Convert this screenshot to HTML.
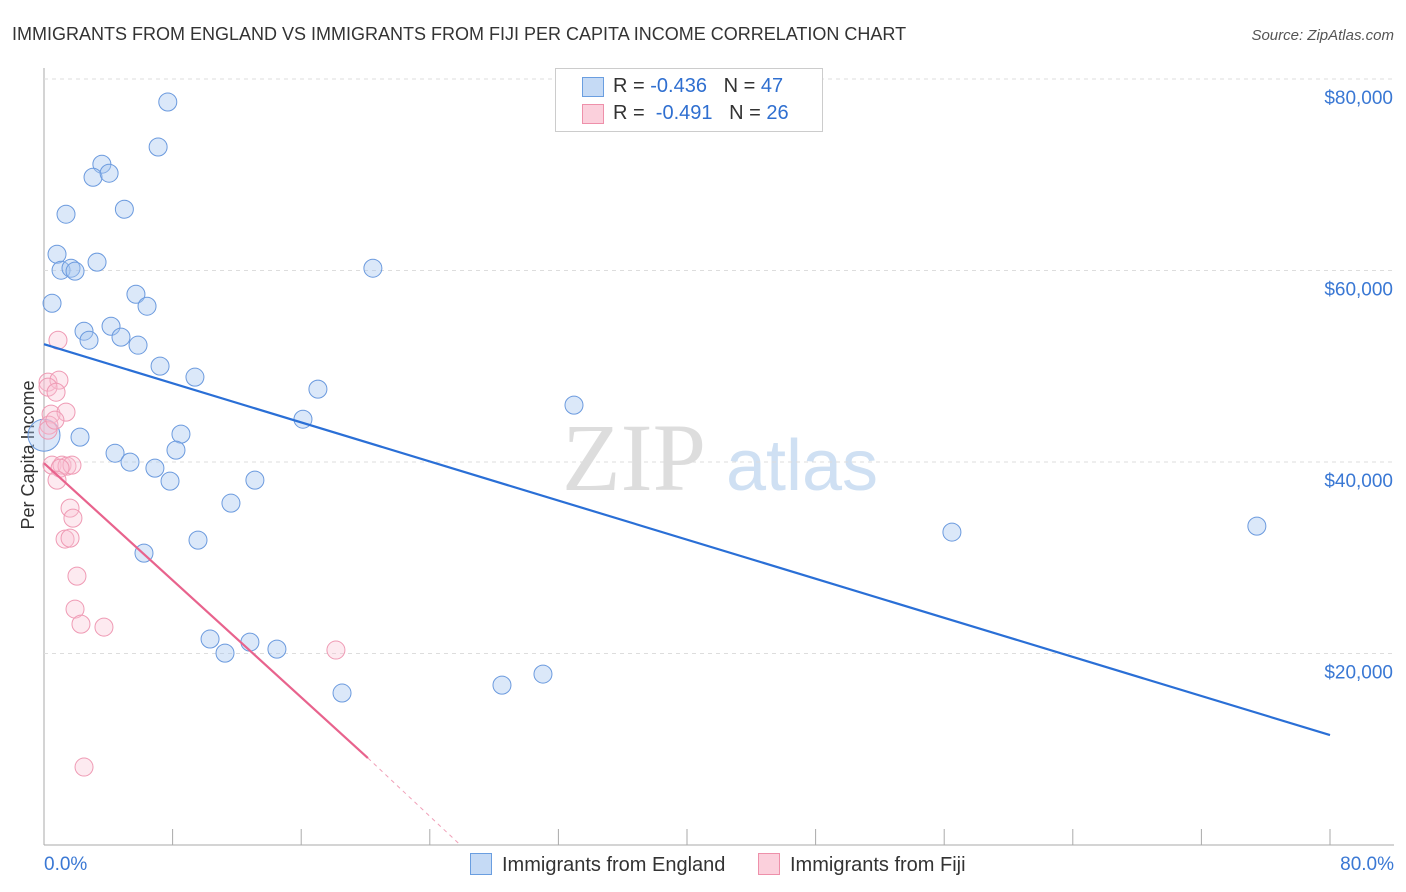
<!DOCTYPE html>
<html><head><meta charset="utf-8"><style>
body{margin:0;background:#fff;font-family:"Liberation Sans",sans-serif;}
#c{position:relative;width:1406px;height:892px;overflow:hidden}
</style></head><body><div id="c">
<svg id="s" width="1406" height="892" xmlns="http://www.w3.org/2000/svg">
<text x="12" y="40" font-size="18" fill="#333">IMMIGRANTS FROM ENGLAND VS IMMIGRANTS FROM FIJI PER CAPITA INCOME CORRELATION CHART</text>
<text x="1394" y="40" font-size="15" fill="#555" text-anchor="end" font-style="italic">Source: ZipAtlas.com</text>
<text x="634" y="490" font-size="96" fill="#ddd" text-anchor="middle" font-family="Liberation Serif,serif">ZIP</text>
<text x="802" y="490" font-size="72" fill="#cfe0f3" text-anchor="middle">atlas</text>
<text transform="translate(34,455) rotate(-90)" font-size="18" fill="#333" text-anchor="middle">Per Capita Income</text>
<g id="grid"></g><g id="marks"></g>
</svg>
<div style="position:absolute;left:555px;top:68px;width:266px;height:62px;border:1px solid #ccc;background:#fff;font-size:20px;color:#333">
<div style="position:absolute;left:26px;top:8px;width:20px;height:18px;background:#c5daf5;border:1px solid #6a9ee0"></div>
<div style="position:absolute;left:57px;top:6px">R = <span style="color:#2f6fd0">-0.436</span>&nbsp;&nbsp;&nbsp;N = <span style="color:#2f6fd0">47</span></div>
<div style="position:absolute;left:26px;top:35px;width:20px;height:18px;background:#fbd0dc;border:1px solid #ee90aa"></div>
<div style="position:absolute;left:57px;top:33px">R = &nbsp;<span style="color:#2f6fd0">-0.491</span>&nbsp;&nbsp;&nbsp;N = <span style="color:#2f6fd0">26</span></div>
</div>
<div style="position:absolute;left:470px;top:853px;font-size:20px;color:#333"><span style="display:inline-block;width:20px;height:20px;background:#c5daf5;border:1px solid #6a9ee0;vertical-align:-4px;margin-right:10px"></span>Immigrants from England</div>
<div style="position:absolute;left:758px;top:853px;font-size:20px;color:#333"><span style="display:inline-block;width:20px;height:20px;background:#fbd0dc;border:1px solid #ee90aa;vertical-align:-4px;margin-right:10px"></span>Immigrants from Fiji</div>
</div>
<script>
const yTicks=[20000,40000,60000,80000];
const yTickLabels=["$20,000","$40,000","$60,000","$80,000"];
const xTickLabels=["0.0%","80.0%"];
const engX=[7.7,7.1,3.6,3.05,4.05,5.0,1.37,0.81,1.06,1.68,1.93,3.3,0.5,5.72,6.41,2.49,4.17,2.8,4.79,5.85,7.22,9.39,17.04,16.11,20.46,32.97,2.24,0,4.42,5.35,8.52,8.21,6.9,7.84,13.12,11.63,6.22,9.58,56.48,75.45,10.33,11.26,12.81,14.49,18.54,28.49,31.04];
const engY=[77600,72900,71100,69740,70160,66400,65880,61700,60030,60240,59930,60870,56580,57520,56270,53660,54180,52720,53040,52200,50010,48860,47610,44470,60240,45940,42600,42800,40920,39990,42910,41240,39360,38000,38110,35700,30480,31840,32680,33300,21510,20040,21190,20460,15870,16700,17850];
const engR=[9,9,9,9,9,9,9,9,9,9,9,9,9,9,9,9,9,9,9,9,9,9,9,9,9,9,9,16,9,9,9,9,9,9,9,9,9,9,9,9,9,9,9,9,9,9,9];
const fijiX=[0.87,0.25,0.93,0.25,0.75,0.44,1.37,0.31,0.25,0.5,1.12,1.43,1.74,1.0,0.81,1.62,1.8,1.31,1.62,2.05,1.93,2.3,3.73,18.16,2.49,0.68];
const fijiY=[52720,48340,48550,47820,47290,45000,45210,43850,43330,39670,39670,39570,39670,39360,38110,35180,34140,31950,32050,28080,24640,23070,22760,20360,8140,44370];
const engTrend=[[0,52300],[80,11480]];
const fijiTrend=[[0,39880],[20.15,9080]];
const fijiDash=[[20.15,9080],[25.9,0]];
const X=v=>44+v/80*1286, Y=v=>845-v/20000*191.5;
const NS="http://www.w3.org/2000/svg";
function mk(p,t,a){const e=document.createElementNS(NS,t);for(const k in a)e.setAttribute(k,a[k]);p.appendChild(e);return e;}
const g=document.getElementById('grid'),m=document.getElementById('marks');
let e=mk(g,'line',{x1:44,y1:68,x2:44,y2:845,stroke:'#aaa'});


e=mk(g,'line',{x1:44,y1:845,x2:1394,y2:845,stroke:'#aaa'});


for(let i=0;i<=10;i++){e=mk(g,'line',{x1:X(i*8),y1:829,x2:X(i*8),y2:845,stroke:'#aaa'});

}
e=mk(g,'line',{x1:44,y1:Y(80000),x2:1394,y2:Y(80000),stroke:'#ddd','stroke-dasharray':'4,4'});


yTicks.forEach((v,i)=>{e=mk(g,'line',{x1:44,y1:Y(v),x2:1394,y2:Y(v),stroke:'#ddd','stroke-dasharray':'4,4'});


const t=mk(g,'text',{x:1393,y:Y(v)+25,'font-size':19,fill:'#3a78d4','text-anchor':'end'});t.textContent=yTickLabels[i];

});
[[0,'start',44],[80,'end',1394]].forEach((a,i)=>{const t=mk(g,'text',{x:a[2],y:870,'font-size':19,fill:'#3a78d4','text-anchor':a[1]});t.textContent=xTickLabels[i];

});
engX.forEach((x,i)=>{e=mk(m,'circle',{cx:X(x),cy:Y(engY[i]),r:engR[i],fill:'rgba(165,198,240,0.4)',stroke:'#6b9ade','stroke-width':1});

});
fijiX.forEach((x,i)=>{e=mk(m,'circle',{cx:X(x),cy:Y(fijiY[i]),r:9,fill:'rgba(248,195,212,0.35)',stroke:'#ef9ab4','stroke-width':1});

});
e=mk(m,'line',{x1:X(engTrend[0][0]),y1:Y(engTrend[0][1]),x2:X(engTrend[1][0]),y2:Y(engTrend[1][1]),stroke:'#2a6fd6','stroke-width':2.2});


e=mk(m,'line',{x1:X(fijiTrend[0][0]),y1:Y(fijiTrend[0][1]),x2:X(fijiTrend[1][0]),y2:Y(fijiTrend[1][1]),stroke:'#e8638d','stroke-width':2.2});


e=mk(m,'line',{x1:X(fijiDash[0][0]),y1:Y(fijiDash[0][1]),x2:X(fijiDash[1][0]),y2:Y(fijiDash[1][1]),stroke:'#f0a0b8','stroke-width':1,'stroke-dasharray':'4,4'});


</script></body></html>
